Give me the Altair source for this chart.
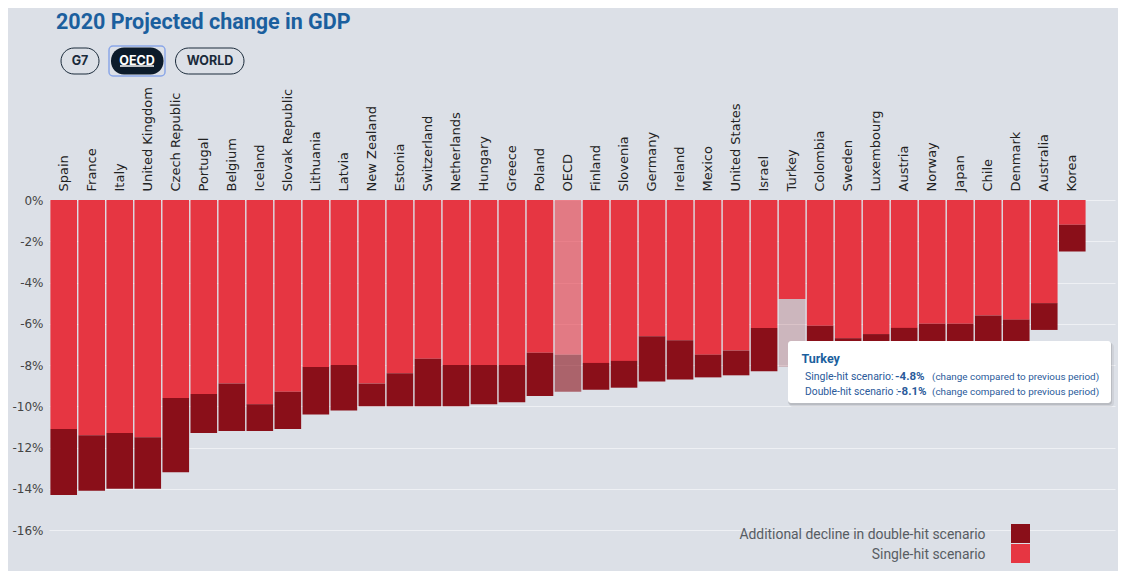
import altair as alt
import pandas as pd

countries = ["Spain", "France", "Italy", "United Kingdom", "Czech Republic", "Portugal",
             "Belgium", "Iceland", "Slovak Republic", "Lithuania", "Latvia", "New Zealand",
             "Estonia", "Switzerland", "Netherlands", "Hungary", "Greece", "Poland", "OECD",
             "Finland", "Slovenia", "Germany", "Ireland", "Mexico", "United States", "Israel",
             "Turkey", "Colombia", "Sweden", "Luxembourg", "Austria", "Norway", "Japan",
             "Chile", "Denmark", "Australia", "Korea"]
single_hit = [-11.1, -11.4, -11.3, -11.5, -9.6, -9.4, -8.9, -9.9, -9.3, -8.1, -8.0, -8.9,
              -8.4, -7.7, -8.0, -8.0, -8.0, -7.4, -7.5, -7.9, -7.8, -6.6, -6.8, -7.5, -7.3,
              -6.2, -4.8, -6.1, -6.7, -6.5, -6.2, -6.0, -6.0, -5.6, -5.8, -5.0, -1.2]
double_hit = [-14.3, -14.1, -14.0, -14.0, -13.2, -11.3, -11.2, -11.2, -11.1, -10.4, -10.2,
              -10.0, -10.0, -10.0, -10.0, -9.9, -9.8, -9.5, -9.3, -9.2, -9.1, -8.8, -8.7,
              -8.6, -8.5, -8.3, -8.1, -7.9, -7.8, -7.7, -7.5, -7.2, -7.3, -7.1, -7.1, -6.3,
              -2.5]
y_ticks = [0, -2, -4, -6, -8, -10, -12, -14, -16]
seg_single = "Single-hit scenario"
seg_double = "Additional decline in double-hit scenario"

RED = "#E63642"
DARK = "#8A0F19"
BG = "#DCE0E7"
BLUE = "#1B5F9E"
NARROW = "Roboto"

rows = []
for c, s, d in zip(countries, single_hit, double_hit):
    rows.append({"country": c, "segment": seg_single, "top": 0.0, "bottom": s})
    rows.append({"country": c, "segment": seg_double, "top": s, "bottom": d})
df = pd.DataFrame(rows)

x_domain = countries + [" "]

bars = alt.Chart(df).transform_calculate(
    op="datum.country === 'OECD' ? 0.6 : ((datum.country === 'Turkey' && datum.segment === '"
       + seg_double + "') ? 0.2 : 1)"
).mark_bar().encode(
    x=alt.X("country:N", sort=x_domain,
            scale=alt.Scale(domain=x_domain, paddingInner=0.05, paddingOuter=0.05),
            axis=alt.Axis(orient="top", title=None, labelAngle=-90, labelAlign="left",
                          labelBaseline="middle", labelPadding=9, labelFont="DejaVu Sans",
                          labelFontSize=13, labelColor="#222", ticks=False, domain=False,
                          grid=False)),
    y=alt.Y("top:Q", scale=alt.Scale(domain=[-16, 0], nice=False, zero=False),
            axis=alt.Axis(title=None, values=y_ticks, labelExpr="datum.value + '%'",
                          labelFont="DejaVu Sans", labelFontSize=12, labelColor="#444",
                          ticks=False, domain=False, labelPadding=6, grid=True,
                          gridColor="#EEF0F4", gridWidth=1)),
    y2="bottom:Q",
    color=alt.Color("segment:N", scale=alt.Scale(domain=[seg_double, seg_single],
                                                 range=[DARK, RED]), legend=None),
    opacity=alt.Opacity("op:Q", scale=None),
)

one = pd.DataFrame({"a": [0]})


def txt(label, x, y, size, color, weight="normal", font=NARROW, align="left",
        baseline="alphabetic"):
    return alt.Chart(one).mark_text(text=label, font=font, fontSize=size, color=color,
                                    fontWeight=weight, align=align, baseline=baseline
                                    ).encode(x=alt.value(x), y=alt.value(y))


def box(x1, x2, y1, y2, **kw):
    return alt.Chart(one).mark_rect(**kw).encode(
        x=alt.value(x1), x2=alt.value(x2), y=alt.value(y1), y2=alt.value(y2))


# title and buttons (positions relative to plot origin)
title = txt("2020 Projected change in GDP", 7, -171, 21.5, BLUE, weight="bold")
btn_g7 = box(12, 50, -152, -126, cornerRadius=13, fill=BG, stroke="#1a2a3a", strokeWidth=1)
btn_focus = box(60, 116, -154, -124, cornerRadius=4, fill=BG, stroke="#8AA6E8", strokeWidth=1.5)
btn_oecd = box(62, 114.5, -152.5, -125.5, cornerRadius=13, fill="#0C1B2A")
btn_world = box(126.5, 195, -152, -126, cornerRadius=13, fill=BG, stroke="#1a2a3a", strokeWidth=1)
t_g7 = txt("G7", 31, -139, 12.5, "#1a2a3a", weight="bold", font="Inter", align="center",
           baseline="middle")
t_oecd = txt("OECD", 88, -139, 12.5, "white", weight="bold", font="Inter", align="center",
             baseline="middle")
u_oecd = alt.Chart(one).mark_rule(color="white", strokeWidth=1.5).encode(
    x=alt.value(71), x2=alt.value(105), y=alt.value(-134))
t_world = txt("WORLD", 161, -139, 12.5, "#1a2a3a", weight="bold", font="Inter",
              align="center", baseline="middle")

# tooltip box
sh1 = box(740, 1065, 143, 207, cornerRadius=4, fill="#000", opacity=0.06)
sh2 = box(739, 1063, 142, 205, cornerRadius=3, fill="#000", opacity=0.1)
tip = box(739, 1062, 141, 203, cornerRadius=3, fill="white")
tip_title = txt("Turkey", 752.5, 163, 12.5, BLUE, weight="bold")
TB = "#2A5A9A"
l1a = txt("Single-hit scenario:", 756, 180, 10.5, TB)
l1b = txt("-4.8%", 846, 180, 11.5, TB, weight="bold")
l1c = txt("(change compared to previous period)", 883, 180, 9.9, TB)
l2a = txt("Double-hit scenario :", 756, 195, 10.3, TB)
l2b = txt("-8.1%", 848, 195, 11.5, TB, weight="bold")
l2c = txt("(change compared to previous period)", 883, 195, 9.9, TB)

# legend
leg1 = txt(seg_double, 936.5, 339, 13.9, "#585D63", align="right")
leg2 = txt(seg_single, 936.5, 359, 13.9, "#585D63", align="right")
sq1 = box(962, 981, 324, 343, fill=DARK)
sq2 = box(962, 981, 344, 363, fill=RED)

chart = alt.layer(
    bars, title, btn_g7, btn_focus, btn_oecd, btn_world, t_g7, t_oecd, u_oecd, t_world,
    sh1, sh2, tip, tip_title, l1a, l1b, l1c, l2a, l2b, l2c, leg1, leg2, sq1, sq2
).properties(
    width=1066, height=330,
    autosize=alt.AutoSizeParams(type="none"),
    padding={"left": 41, "top": 192, "right": 3, "bottom": 41},
    background=BG,
).configure_view(stroke=None)

chart.save("out.html", embed_options={"renderer": "svg", "actions": False})
